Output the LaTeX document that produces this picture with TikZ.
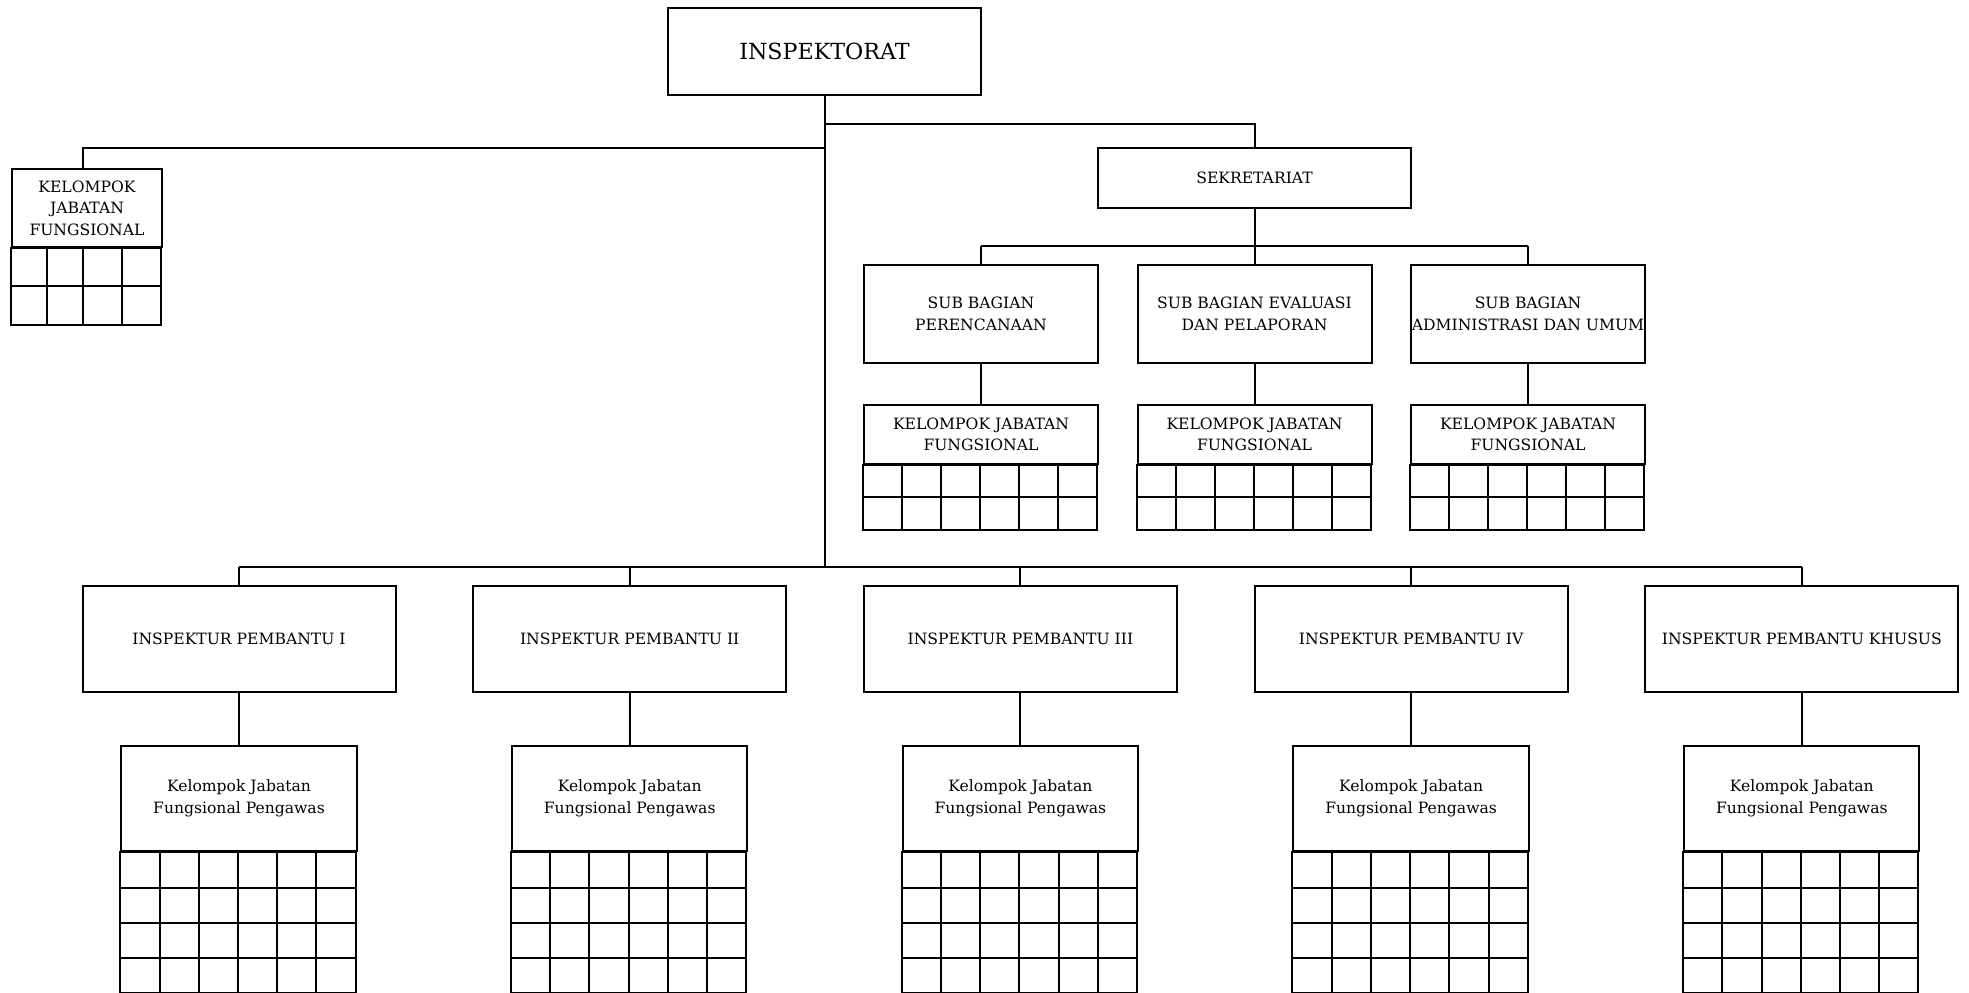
\documentclass[tikz,border=0pt]{standalone}
\usepackage{fontspec}
\setmainfont{DejaVu Serif}
\usetikzlibrary{calc}
\begin{document}
\begin{tikzpicture}[x=0.5pt,y=-0.5pt,
  bx/.style={draw, line width=1pt, inner sep=0pt, align=center, font=\fontsize{7.8}{10.8}\selectfont},
  conn/.style={line width=1pt},
  gridl/.style={line width=1pt},
  topbox/.style={bx, minimum width=156.5pt, minimum height=43.5pt, font=\fontsize{11.1}{13}\selectfont},
  sekbox/.style={bx, minimum width=156.5pt, minimum height=30pt},
  sbbox/.style={bx, minimum width=117pt, minimum height=49pt},
  kjfsbox/.style={bx, minimum width=117pt, minimum height=29.5pt, anchor=north},
  ipbox/.style={bx, minimum width=156.5pt, minimum height=52.85pt},
  kjfpbox/.style={bx, minimum width=117.65pt, minimum height=52.5pt, anchor=north},
  kjflbox/.style={bx, minimum width=75pt, minimum height=38.7pt, anchor=north west}]
\useasboundingbox (0,0) rectangle (1969,992);

% top
\node[topbox] (ins) at (824.5,51) {INSPEKTORAT};
\coordinate (sekbar) at (825,124);
\coordinate (lbar) at (825,148);
\coordinate (bbar) at (825,566.5);
\draw[conn] (ins.south) -- (ins.south |- bbar);

% sekretariat
\node[sekbox] (sek) at (1254.5,178) {SEKRETARIAT};
\draw[conn] (sekbar) -| (sek.north);

% left kelompok
\node[kjflbox] (kjfl) at (11,168.3) {KELOMPOK\\JABATAN\\FUNGSIONAL};
\coordinate (lc) at (82.7,168.3);
\draw[conn] (lbar) -| (lc);
\draw[gridl, shift={(kjfl.south west)}] (0,0) rectangle (150,76.8)
  (0,38.3) -- (150,38.3)
  (35.7,0) -- (35.7,76.8) (71.7,0) -- (71.7,76.8) (110.7,0) -- (110.7,76.8);

% sub bagian
\coordinate (subbar) at (1254.5,246);
\node[sbbox] (sb1) at (981,314) {SUB BAGIAN\\PERENCANAAN};
\node[sbbox] (sb2) at (1254.5,314) {SUB BAGIAN EVALUASI\\DAN PELAPORAN};
\node[sbbox] (sb3) at (1528,314) {SUB BAGIAN\\ADMINISTRASI DAN UMUM};
\draw[conn] (sek.south) -- (subbar);
\draw[conn] (sb1.north |- subbar) -- (sb3.north |- subbar);
\foreach \s in {sb1,sb2,sb3} {
  \draw[conn] (\s.north |- subbar) -- (\s.north);
  \node[kjfsbox] (k\s) at ($(\s.south)+(0,40)$) {KELOMPOK JABATAN\\FUNGSIONAL};
  \draw[conn] (\s.south) -- (k\s.north);
  \draw[gridl, shift={(k\s.south west)}] (0,0) rectangle (234,64.5) (0,32.2) -- (234,32.2);
  \foreach \i in {1,...,5} \draw[gridl, shift={(k\s.south west)}] (\i*39,0) -- (\i*39,64.5);
}

% inspektur pembantu
\foreach \t [count=\k from 0] in {I,II,III,IV,KHUSUS} {
  \pgfmathsetmacro\cx{239+\k*390.7}
  \node[ipbox] (ip\k) at (\cx,638.85) {INSPEKTUR PEMBANTU \t};
  \node[kjfpbox] (kp\k) at (\cx,744.5) {Kelompok Jabatan\\Fungsional Pengawas};
  \draw[conn] (ip\k.north |- bbar) -- (ip\k.north);
  \draw[conn] (ip\k.south) -- (kp\k.north);
  \draw[gridl, shift={(kp\k.south west)}] (0,0) rectangle (235.3,141.5)
    (0,36.5) -- (235.3,36.5) (0,71.5) -- (235.3,71.5) (0,106.5) -- (235.3,106.5);
  \foreach \i in {1,...,5} \draw[gridl, shift={(kp\k.south west)}] (\i*39.22,0) -- (\i*39.22,141.5);
}
\draw[conn] (ip0.north |- bbar) -- (ip4.north |- bbar);
\end{tikzpicture}
\end{document}
